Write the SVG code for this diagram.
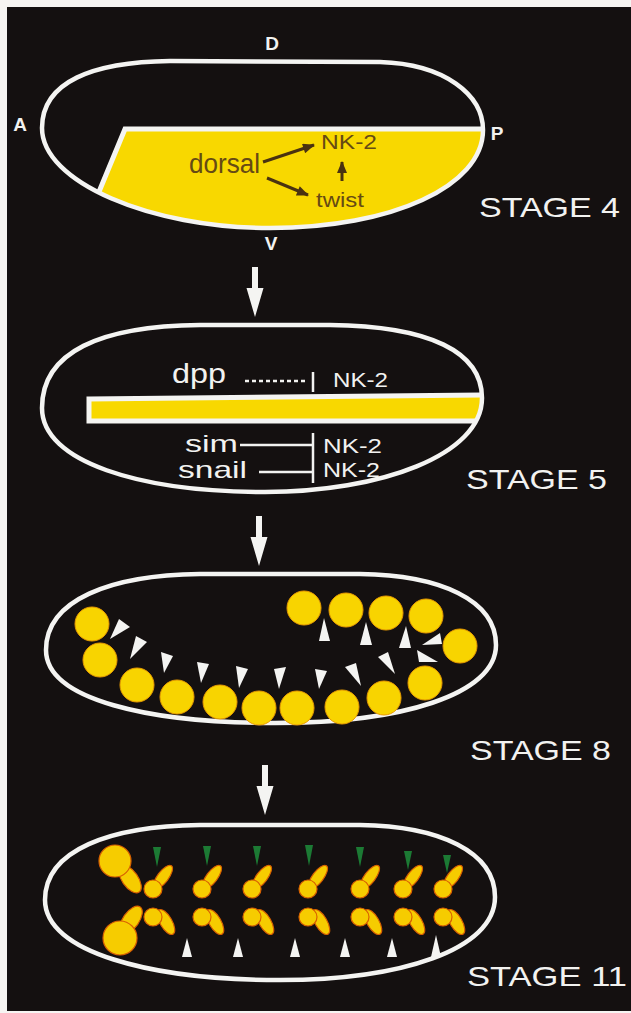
<svg xmlns="http://www.w3.org/2000/svg" width="631" height="1013" viewBox="0 0 631 1013">
  <defs>
    <style>
      .outline { fill: none; stroke: #f4f4f2; stroke-width: 4.5; stroke-linejoin: round; }
      .lbl { font-family: "Liberation Sans", Arial, sans-serif; fill: #f2f2f0; }
      .axis { font-family: "Liberation Sans", Arial, sans-serif; font-weight: bold; fill: #f2f2f0; font-size: 19px; text-anchor: middle; }
      .stage { font-family: "Liberation Sans", Arial, sans-serif; fill: #f2f2f0; font-size: 28px; }
      .gene { font-family: "Liberation Sans", Arial, sans-serif; fill: #664a14; }
      .brown { stroke: #4a3210; stroke-width: 3; fill: none; }
      .yel { fill: #f8d800; }
      .cell { fill: #f8d400; stroke: #e89a00; stroke-width: 1; }
      .blob { fill: #f6cc00; stroke: #d86000; stroke-width: 1.2; }
      .wtri { fill: #f4f4f2; }
      .gtri { fill: #1c7a34; }
      .inh { stroke: #f2f2f0; stroke-width: 2.5; fill: none; }
    </style>
    <marker id="brownHead" viewBox="0 0 12 10" refX="11" refY="5" markerWidth="13" markerHeight="10" markerUnits="userSpaceOnUse" orient="auto">
      <path d="M0,0 L12,5 L0,10 Z" fill="#4a3210"/>
    </marker>
    <path id="down" d="M-3,0 L3,0 L3,21 L8.5,21 L0,50 L-8.5,21 L-3,21 Z"/>
    <clipPath id="clip4">
      <path d="M42,128 C42,82 92,62 170,61 L380,62 C445,64 483,95 483,130 C483,186 392,228 270,228 C150,228 42,182 42,128 Z"/>
    </clipPath>
    <clipPath id="clip5">
      <path d="M42,408 C42,352 100,326 200,325 L330,325 C430,326 482,352 482,398 C482,455 380,492 265,492 C140,492 42,462 42,408 Z"/>
    </clipPath>
  </defs>

  <!-- photographic plate: white margin and black ground -->
  <rect x="0" y="0" width="631" height="1013" fill="#f6f4f2"/>
  <rect x="7" y="7" width="624" height="1004" fill="#141010"/>

  <!-- STAGE 4 -->
  <g id="stage4">
    <g clip-path="url(#clip4)">
      <path class="yel" d="M125,131 L490,131 L490,240 L79,240 Z"/>
      <path d="M79,240 L125,129 L490,129" fill="none" stroke="#f4f4f2" stroke-width="5"/>
    </g>
    <path class="outline" d="M42,128 C42,82 92,62 170,61 L380,62 C445,64 483,95 483,130 C483,186 392,228 270,228 C150,228 42,182 42,128 Z"/>
    <text class="axis" x="272" y="50">D</text>
    <text class="axis" x="20" y="131">A</text>
    <text class="axis" x="497" y="140">P</text>
    <text class="axis" x="271" y="250">V</text>
    <text class="gene" x="189" y="173" font-size="27" textLength="71" lengthAdjust="spacingAndGlyphs">dorsal</text>
    <text class="gene" x="321" y="149" font-size="21" textLength="56" lengthAdjust="spacingAndGlyphs">NK-2</text>
    <text class="gene" x="316" y="207" font-size="21" textLength="48" lengthAdjust="spacingAndGlyphs">twist</text>
    <line class="brown" x1="263" y1="162" x2="314" y2="145" marker-end="url(#brownHead)"/>
    <line class="brown" x1="267" y1="178" x2="308" y2="195" marker-end="url(#brownHead)"/>
    <line class="brown" x1="342" y1="181" x2="342" y2="162" marker-end="url(#brownHead)"/>
    <text class="stage" x="479" y="217" textLength="141" lengthAdjust="spacingAndGlyphs">STAGE 4</text>
  </g>

  <!-- STAGE 5 -->
  <g id="stage5">
    <g clip-path="url(#clip5)">
      <path class="yel" d="M89,399 L490,395 L490,421 L89,421 Z" stroke="#f4f4f2" stroke-width="5"/>
    </g>
    <path class="outline" d="M42,408 C42,352 100,326 200,325 L330,325 C430,326 482,352 482,398 C482,455 380,492 265,492 C140,492 42,462 42,408 Z"/>
    <text class="lbl" x="172" y="383" font-size="27" textLength="54" lengthAdjust="spacingAndGlyphs">dpp</text>
    <text class="lbl" x="333" y="387" font-size="21" textLength="55" lengthAdjust="spacingAndGlyphs">NK-2</text>
    <text class="lbl" x="185" y="452" font-size="24" textLength="53" lengthAdjust="spacingAndGlyphs">sim</text>
    <text class="lbl" x="323" y="453" font-size="21" textLength="59" lengthAdjust="spacingAndGlyphs">NK-2</text>
    <text class="lbl" x="178" y="478" font-size="24" textLength="69" lengthAdjust="spacingAndGlyphs">snail</text>
    <text class="lbl" x="323" y="477" font-size="21" textLength="57" lengthAdjust="spacingAndGlyphs">NK-2</text>
    <text class="stage" x="466" y="489" textLength="141" lengthAdjust="spacingAndGlyphs">STAGE 5</text>
  </g>

  <!-- STAGE 8 -->
  <g id="stage8">
    <path class="outline" d="M46,650 C46,600 110,575 200,574 L360,574 C440,575 496,600 496,645 C496,695 400,723 275,723 C150,723 46,700 46,650 Z"/>
    <g>
      <circle class="cell" cx="92" cy="624" r="17"/>
      <circle class="cell" cx="100" cy="660" r="17"/>
      <circle class="cell" cx="137" cy="685" r="17"/>
      <circle class="cell" cx="177" cy="697" r="17"/>
      <circle class="cell" cx="220" cy="702" r="17"/>
      <circle class="cell" cx="259" cy="708" r="17"/>
      <circle class="cell" cx="297" cy="708" r="17"/>
      <circle class="cell" cx="342" cy="707" r="17"/>
      <circle class="cell" cx="384" cy="698" r="17"/>
      <circle class="cell" cx="425" cy="683" r="17"/>
      <circle class="cell" cx="460" cy="646" r="17"/>
      <circle class="cell" cx="304" cy="608" r="17"/>
      <circle class="cell" cx="346" cy="610" r="17"/>
      <circle class="cell" cx="386" cy="613" r="17"/>
      <circle class="cell" cx="426" cy="616" r="17"/>
    </g>
    <g>
      <polygon class="wtri" points="119,619 130,627 110,639"/>
      <polygon class="wtri" points="136,636 147,642 130,659"/>
      <polygon class="wtri" points="161,652 173,656 164,673"/>
      <polygon class="wtri" points="197,662 209,664 201,683"/>
      <polygon class="wtri" points="236,666 248,669 239,688"/>
      <polygon class="wtri" points="274,669 286,667 279,689"/>
      <polygon class="wtri" points="315,669 327,671 319,689"/>
      <polygon class="wtri" points="345,667 356,663 361,686"/>
      <polygon class="wtri" points="378,657 388,652 395,674"/>
      <polygon class="wtri" points="417,650 419,662 438,662"/>
      <polygon class="wtri" points="440,633 442,644 422,645"/>
      <polygon class="wtri" points="324,618 319,641 330,641"/>
      <polygon class="wtri" points="366,622 360,645 372,645"/>
      <polygon class="wtri" points="406,626 399,648 411,648"/>
    </g>
    <text class="stage" x="470" y="760" textLength="141" lengthAdjust="spacingAndGlyphs">STAGE 8</text>
  </g>

  <!-- STAGE 11 -->
  <g id="stage11">
    <path class="outline" d="M45,900 C45,850 110,826 200,825 L360,825 C440,826 495,852 495,897 C495,950 400,980 280,980 C150,980 45,952 45,900 Z"/>
    <!-- anterior pair -->
    <g>
      <ellipse class="blob" cx="130" cy="879" rx="8" ry="16" transform="rotate(-35 130 879)"/>
      <circle class="blob" cx="115" cy="861" r="16"/>
      <ellipse class="blob" cx="131" cy="920" rx="8" ry="16" transform="rotate(35 131 920)"/>
      <circle class="blob" cx="120" cy="938" r="17"/>
    </g>
    <!-- segmental clusters -->
    <g id="clusters">
      <g transform="translate(153,0)">
        <ellipse class="blob" cx="10" cy="877" rx="5.5" ry="14" transform="rotate(37 10 877)"/>
        <circle class="blob" cx="0" cy="889" r="9"/>
        <ellipse class="blob" cx="13" cy="922" rx="6" ry="14" transform="rotate(-30 13 922)"/>
        <circle class="blob" cx="0" cy="917" r="9"/>
      </g>
      <g transform="translate(202,0)">
        <ellipse class="blob" cx="10" cy="877" rx="5.5" ry="14" transform="rotate(37 10 877)"/>
        <circle class="blob" cx="0" cy="889" r="9"/>
        <ellipse class="blob" cx="13" cy="922" rx="6" ry="14" transform="rotate(-30 13 922)"/>
        <circle class="blob" cx="0" cy="917" r="9"/>
      </g>
      <g transform="translate(252,0)">
        <ellipse class="blob" cx="10" cy="877" rx="5.5" ry="14" transform="rotate(37 10 877)"/>
        <circle class="blob" cx="0" cy="889" r="9"/>
        <ellipse class="blob" cx="13" cy="922" rx="6" ry="14" transform="rotate(-30 13 922)"/>
        <circle class="blob" cx="0" cy="917" r="9"/>
      </g>
      <g transform="translate(308,0)">
        <ellipse class="blob" cx="10" cy="877" rx="5.5" ry="14" transform="rotate(37 10 877)"/>
        <circle class="blob" cx="0" cy="889" r="9"/>
        <ellipse class="blob" cx="13" cy="922" rx="6" ry="14" transform="rotate(-30 13 922)"/>
        <circle class="blob" cx="0" cy="917" r="9"/>
      </g>
      <g transform="translate(360,0)">
        <ellipse class="blob" cx="10" cy="877" rx="5.5" ry="14" transform="rotate(37 10 877)"/>
        <circle class="blob" cx="0" cy="889" r="9"/>
        <ellipse class="blob" cx="13" cy="922" rx="6" ry="14" transform="rotate(-30 13 922)"/>
        <circle class="blob" cx="0" cy="917" r="9"/>
      </g>
      <g transform="translate(403,0)">
        <ellipse class="blob" cx="10" cy="877" rx="5.5" ry="14" transform="rotate(37 10 877)"/>
        <circle class="blob" cx="0" cy="889" r="9"/>
        <ellipse class="blob" cx="13" cy="922" rx="6" ry="14" transform="rotate(-30 13 922)"/>
        <circle class="blob" cx="0" cy="917" r="9"/>
      </g>
      <g transform="translate(443,0)">
        <ellipse class="blob" cx="10" cy="877" rx="5.5" ry="14" transform="rotate(37 10 877)"/>
        <circle class="blob" cx="0" cy="889" r="9"/>
        <ellipse class="blob" cx="13" cy="922" rx="6" ry="14" transform="rotate(-30 13 922)"/>
        <circle class="blob" cx="0" cy="917" r="9"/>
      </g>
    </g>
    <g>
      <polygon class="gtri" points="153,847 161,847 157,867"/>
      <polygon class="gtri" points="203,846 211,846 207,866"/>
      <polygon class="gtri" points="253,846 261,846 257,866"/>
      <polygon class="gtri" points="305,845 313,845 309,866"/>
      <polygon class="gtri" points="356,847 364,847 360,867"/>
      <polygon class="gtri" points="404,851 412,851 408,870"/>
      <polygon class="gtri" points="443,855 451,855 447,873"/>
    </g>
    <g>
      <polygon class="wtri" points="187,938 182,957 192,957"/>
      <polygon class="wtri" points="238,938 233,957 243,957"/>
      <polygon class="wtri" points="295,938 290,957 300,957"/>
      <polygon class="wtri" points="345,938 340,957 350,957"/>
      <polygon class="wtri" points="392,938 387,957 397,957"/>
      <polygon class="wtri" points="436,935 431,957 441,957"/>
    </g>
    <text class="stage" x="467" y="986" textLength="160" lengthAdjust="spacingAndGlyphs">STAGE 11</text>
  </g>

  <!-- connectors between stages, and the inhibition lines -->
  <g id="connectors">
    <use href="#down" x="255" y="267" fill="#f4f4f2"/>
    <use href="#down" x="259" y="516" fill="#f4f4f2"/>
    <use href="#down" x="265" y="765" fill="#f4f4f2"/>
    <line class="inh" x1="245" y1="381" x2="308" y2="381" stroke-dasharray="4 3"/>
    <line class="inh" x1="313" y1="372" x2="313" y2="392"/>
    <line class="inh" x1="240" y1="445" x2="313" y2="445"/>
    <line class="inh" x1="259" y1="472" x2="313" y2="472"/>
    <line class="inh" x1="313" y1="433" x2="313" y2="483"/>
  </g>
</svg>
